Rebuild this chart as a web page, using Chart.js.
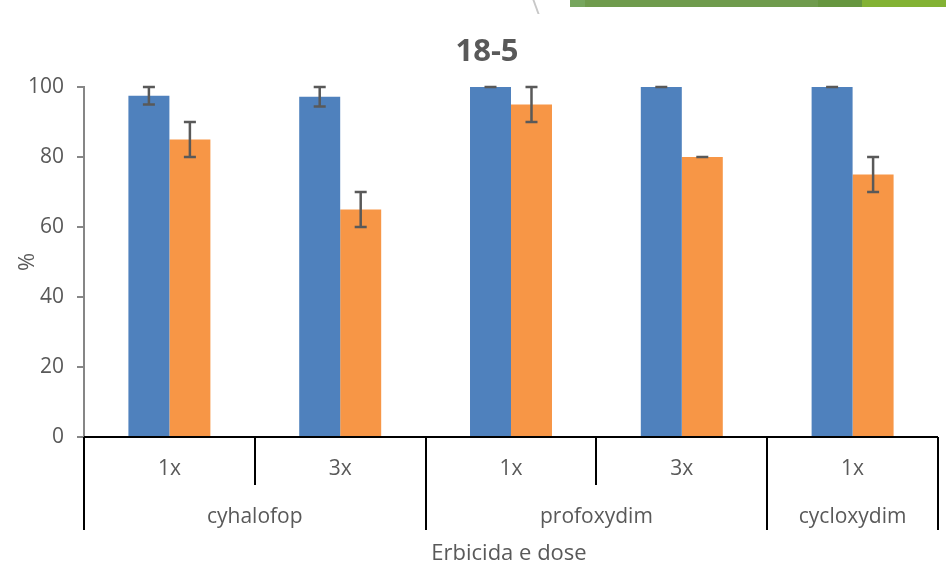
<!DOCTYPE html>
<html>
<head>
<meta charset="utf-8">
<script src="https://cdn.jsdelivr.net/npm/chart.js@4.4.1/dist/chart.umd.min.js"></script>
<style>
  html, body { margin: 0; padding: 0; background: #fff; }
  #wrap { position: relative; width: 946px; height: 568px; overflow: hidden; }
  .deco { position: absolute; top: 0; height: 7px; }
</style>
</head>
<body>
<div id="wrap">
  <canvas id="chart" width="946" height="568"></canvas>
  <div class="deco" style="left:570px;width:16px;background:#77a65e;"></div>
  <div class="deco" style="left:585px;width:234px;background:#6f9b4d;"></div>
  <div class="deco" style="left:818px;width:45px;background:#66963f;"></div>
  <div class="deco" style="left:862px;width:84px;background:#83b234;"></div>
  <div class="deco" style="left:535px;width:2px;height:14px;background:#c8c8c8;transform:skewX(20deg);"></div>
</div>
<script>
// data
const doses = ['1x', '3x', '1x', '3x', '1x'];
const herbicides = ['cyhalofop', 'profoxydim', 'cycloxydim'];
const herbicideSpan = [2, 2, 1];
const blueValues = [97.5, 97.2, 100, 100, 100];
const blueErrors = [2.5, 2.8, 0, 0, 0];
const orangeValues = [85, 65, 95, 80, 75];
const orangeErrors = [5, 5, 5, 0, 5];
const yTicks = [0, 20, 40, 60, 80, 100];

const FONT = "'Open Sans', 'Noto Sans', sans-serif";
const TEXT = '#595959';

// error bars on top of every bar
const errorBars = {
    id: 'errorBars',
    afterDatasetsDraw(chart) {
        const ctx = chart.ctx;
        const y = chart.scales.y;
        const errs = [blueErrors, orangeErrors];
        ctx.save();
        ctx.strokeStyle = '#595959';
        ctx.lineWidth = 2.5;
        chart.data.datasets.forEach((ds, i) => {
            const meta = chart.getDatasetMeta(i);
            meta.data.forEach((bar, j) => {
                const v = ds.data[j];
                const e = errs[i][j];
                const top = y.getPixelForValue(v + e);
                const bot = y.getPixelForValue(v - e);
                ctx.beginPath();
                ctx.moveTo(bar.x, top);
                ctx.lineTo(bar.x, bot);
                ctx.moveTo(bar.x - 6, top);
                ctx.lineTo(bar.x + 6, top);
                ctx.moveTo(bar.x - 6, bot);
                ctx.lineTo(bar.x + 6, bot);
                ctx.stroke();
            });
        });
        ctx.restore();
    }
};

// two-level category axis, titles
const multiAxis = {
    id: 'multiAxis',
    afterDraw(chart) {
        const ctx = chart.ctx;
        const x = chart.scales.x;
        const area = chart.chartArea;
        const step = (area.right - area.left) / doses.length;
        const base = area.bottom;
        ctx.save();

        // x axis line
        ctx.strokeStyle = '#000';
        ctx.lineWidth = 2;
        ctx.beginPath();
        ctx.moveTo(area.left, base);
        ctx.lineTo(area.right, base);
        ctx.stroke();

        // separators
        let idx = 0;
        const fullEdges = [0];
        herbicideSpan.forEach(s => { idx += s; fullEdges.push(idx); });
        for (let k = 0; k <= doses.length; k++) {
            const px = Math.round(area.left + k * step);
            const full = fullEdges.includes(k);
            ctx.beginPath();
            ctx.moveTo(px, base);
            ctx.lineTo(px, full ? base + 93 : base + 48);
            ctx.stroke();
        }

        ctx.fillStyle = TEXT;
        ctx.font = '21px ' + FONT;
        ctx.textAlign = 'center';
        ctx.textBaseline = 'middle';
        doses.forEach((d, i) => {
            ctx.fillText(d, x.getPixelForValue(i), base + 32);
        });
        let start = 0;
        herbicides.forEach((h, i) => {
            const cx = area.left + (start + herbicideSpan[i] / 2) * step;
            ctx.fillText(h, cx, base + 80);
            start += herbicideSpan[i];
        });

        // axis title
        ctx.font = '22px ' + FONT;
        ctx.fillText('Erbicida e dose', (area.left + area.right) / 2 - 2, base + 117);

        // y title
        ctx.save();
        ctx.translate(28, (area.top + area.bottom) / 2);
        ctx.rotate(-Math.PI / 2);
        ctx.fillText('%', 0, 0);
        ctx.restore();

        // chart title
        ctx.font = 'bold 31px ' + FONT;
        ctx.fillText('18-5', 487, 52);
        ctx.restore();
    }
};

new Chart(document.getElementById('chart').getContext('2d'), {
    type: 'bar',
    data: {
        labels: doses,
        datasets: [{
            data: blueValues,
            backgroundColor: '#4f81bd',
            categoryPercentage: 0.48,
            barPercentage: 1
        }, {
            data: orangeValues,
            backgroundColor: '#f79646',
            categoryPercentage: 0.48,
            barPercentage: 1
        }]
    },
    options: {
        responsive: false,
        animation: false,
        layout: { padding: { left: 0, right: 8, top: 87, bottom: 131 } },
        plugins: {
            legend: { display: false },
            tooltip: { enabled: false }
        },
        scales: {
            x: { display: false },
            y: {
                min: 0,
                max: 100,
                afterFit(scale) { scale.width = 84; },
                afterBuildTicks(scale) { scale.ticks = yTicks.map(v => ({ value: v })); },
                grid: { drawOnChartArea: false, color: '#868686', lineWidth: 2, tickLength: 7 },
                border: { color: '#868686', width: 2 },
                ticks: {
                    color: TEXT,
                    padding: 13,
                    font: { family: FONT, size: 21 }
                }
            }
        }
    },
    plugins: [errorBars, multiAxis]
});
</script>
</body>
</html>
